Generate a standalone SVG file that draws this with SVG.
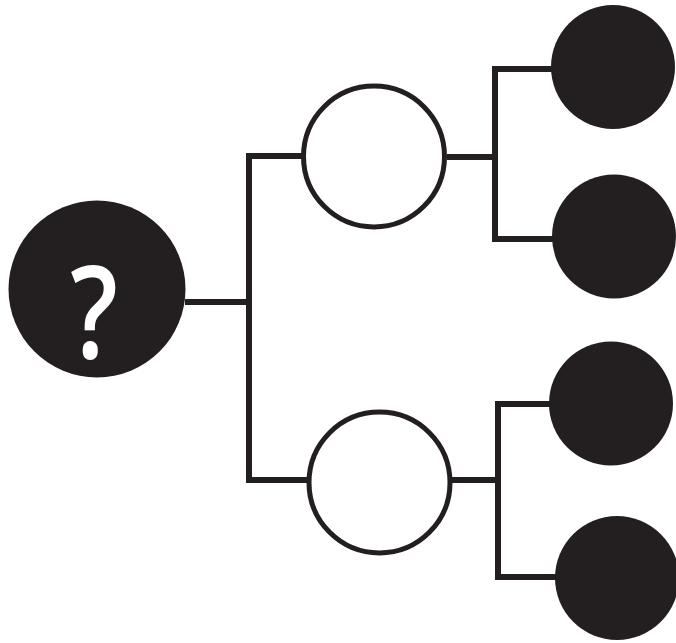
<svg xmlns="http://www.w3.org/2000/svg" width="676" height="643" viewBox="0 0 676 643">
<style>
.line{fill:none;stroke:#231f20;stroke-width:6;stroke-linecap:butt;stroke-linejoin:miter}
.open{fill:#fff;stroke:#231f20;stroke-width:5}
.solid{fill:#231f20}
.q{fill:#fff;font-family:"Open Sans","Liberation Sans",sans-serif;font-weight:600;font-size:128px;text-anchor:middle}
</style>
<rect width="676" height="643" fill="#fff"/>
<g id="connectors">
<path class="line" d="M185 302 H249"/>
<path class="line" d="M304 156 H249 V480 H310"/>
<path class="line" d="M447 157 H495"/>
<path class="line" d="M555 69 H495 V239 H556"/>
<path class="line" d="M452 480 H498"/>
<path class="line" d="M552 404 H498 V577 H560"/>
</g>
<g id="root">
<circle class="solid" cx="97" cy="289" r="88.5"/>
<text class="q" transform="translate(94,358) scale(0.82,1)" x="0" y="0">?</text>
</g>
<g id="mid-top"><circle class="open" cx="374" cy="156.5" r="70.5"/></g>
<g id="mid-bottom"><circle class="open" cx="379.5" cy="482.5" r="70.5"/></g>
<g id="leaf-1"><circle class="solid" cx="613" cy="67" r="62"/></g>
<g id="leaf-2"><circle class="solid" cx="614" cy="236.5" r="62"/></g>
<g id="leaf-3"><circle class="solid" cx="611" cy="403.5" r="62"/></g>
<g id="leaf-4"><circle class="solid" cx="617" cy="578" r="62"/></g>
</svg>
